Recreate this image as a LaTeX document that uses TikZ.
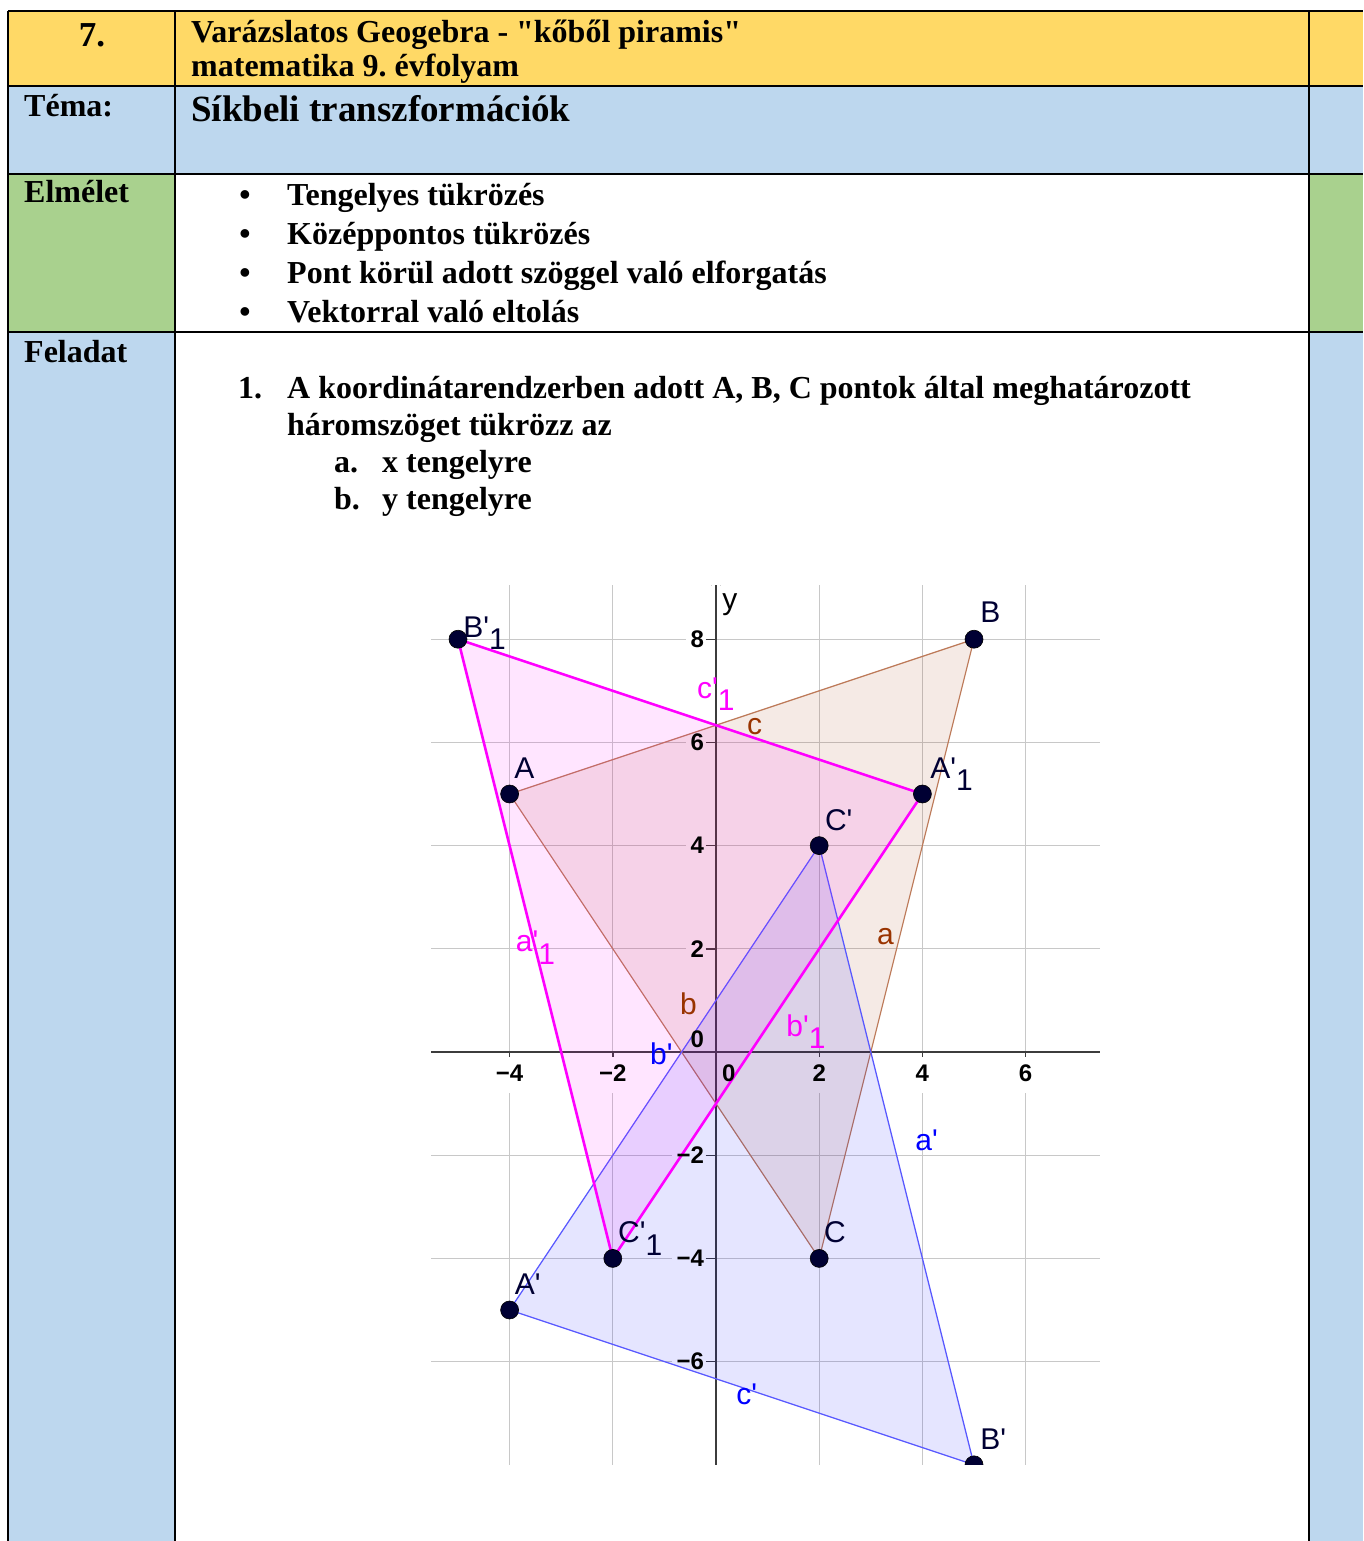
\documentclass[tikz,border=0pt]{standalone}
\usepackage{fontspec}
\setmainfont{Liberation Serif}[Ligatures=TeXOff]
\setsansfont{Liberation Sans}[Ligatures=TeXOff]
\usetikzlibrary{arrows.meta}
\frenchspacing

\definecolor{hdryellow}{RGB}{255,217,102}
\definecolor{hdrblue}{RGB}{189,215,238}
\definecolor{hdrgreen}{RGB}{169,209,142}
\definecolor{ggbrown}{RGB}{153,51,0}
\definecolor{ggpink}{RGB}{255,0,255}
\definecolor{ggblue}{RGB}{0,0,255}
\definecolor{ggpoint}{RGB}{0,0,51}
\definecolor{gggrid}{RGB}{200,200,200}
\definecolor{ggaxis}{RGB}{60,60,60}

\newcommand{\ggsub}[1]{\raisebox{-0.42em}{#1}}

\begin{document}
\begin{tikzpicture}[x=1pt, y=-1pt,
    hdrtext/.style={anchor=base west, inner sep=0pt, font=\fontsize{32}{36}\selectfont\bfseries},
    rule/.style={line width=2.6pt, black},
    gridline/.style={gggrid, line width=1.3pt},
    axisline/.style={ggaxis, line width=1.4pt},
    ticklbl/.style={inner sep=0pt, font=\sffamily\bfseries\fontsize{24}{27}\selectfont},
    ptlbl/.style={anchor=base west, inner sep=0pt, text=ggpoint, font=\sffamily\fontsize{30}{33}\selectfont},
    edgelbl/.style={anchor=base west, inner sep=0pt, font=\sffamily\fontsize{30}{33}\selectfont},
    ggdot/.style={circle, fill=ggpoint, draw=black, line width=0.6pt, inner sep=0pt, minimum size=18pt},
    browntri/.style={draw=ggbrown!65, line width=1.2pt, fill=ggbrown, fill opacity=0.1},
    bluetri/.style={draw=ggblue!65, line width=1.3pt, fill=ggblue, fill opacity=0.1},
    pinktri/.style={draw=ggpink, line width=2.6pt, fill=ggpink, fill opacity=0.1}
]
\useasboundingbox (0,0) rectangle (1363,1541);

% table cells
\fill[hdryellow] (8,11) rectangle (1363,86);
\fill[hdrblue] (8,86) rectangle (1363,174);
\fill[hdrgreen] (8,174) rectangle (175,332);
\fill[hdrgreen] (1309,174) rectangle (1363,332);
\fill[hdrblue] (8,332) rectangle (175,1541);
\fill[hdrblue] (1309,332) rectangle (1363,1541);
\foreach \ry in {11,86,174,332}
    \draw[rule] (8,\ry) -- (1363,\ry);
\foreach \rx in {8,175,1309}
    \draw[rule] (\rx,11) -- (\rx,1541);

% table texts
\node[hdrtext, anchor=base, font=\fontsize{35}{40}\selectfont\bfseries] (num) at (92,47) {7.};
\node[hdrtext] (title1) at (191,43) {Varázslatos Geogebra - "kőből piramis"};
\node[hdrtext] (title2) at (191,77) {matematika 9. évfolyam};
\node[hdrtext] (tema) at (24,117) {Téma:};
\node[hdrtext, font=\fontsize{37}{42}\selectfont\bfseries] (temaval) at (191,122) {Síkbeli transzformációk};
\node[hdrtext] (elmelet) at (24,203) {Elmélet};
\foreach \txt [count=\i] in {Tengelyes tükrözés, Középpontos tükrözés, Pont körül adott szöggel való elforgatás, Vektorral való eltolás} {
    \node[hdrtext, anchor=base] (bdot\i) at (245,{205+(\i-1)*39.3}) {\textbullet};
    \node[hdrtext] (bul\i) at (287,{205+(\i-1)*39.3}) {\txt};
}
\node[hdrtext] (feladat) at (24,362) {Feladat};
\node[hdrtext] (tasknum) at (238,398) {1.};
\node[hdrtext] (task1) at (287,398) {A koordinátarendzerben adott A, B, C pontok által meghatározott};
\node[hdrtext] (task2) at (287,435) {háromszöget tükrözz az};
\node[hdrtext] (suba) at (334,472) {a.};
\node[hdrtext] (subatxt) at (382,472) {x tengelyre};
\node[hdrtext] (subb) at (334,509) {b.};
\node[hdrtext] (subbtxt) at (382,509) {y tengelyre};

% coordinate system
\begin{scope}[shift={(716pt,-1052pt)}, x=51.6pt, y=51.6pt]
\begin{scope}
\clip (-5.52,-8.0) rectangle (7.44,9.05);

% grid with gaps for the axis labels
\foreach \gx in {-4,-2,2,4,6} {
    \draw[gridline] (\gx,9.05) -- (\gx,0);
    \draw[gridline] (\gx,-0.8) -- (\gx,-8);
    \draw[axisline] (\gx,0) -- (\gx,-0.1);
}
\foreach \gy/\stop in {8/-0.58, 6/-0.58, 4/-0.58, 2/-0.58, -2/-0.85, -4/-0.85, -6/-0.85} {
    \draw[gridline] (-5.52,\gy) -- (\stop,\gy);
    \draw[gridline] (0,\gy) -- (7.44,\gy);
    \draw[axisline] (-0.2,\gy) -- (0,\gy);
}
\draw[axisline] (-5.52,0) -- (7.44,0);
\draw[axisline, -{Straight Barb[length=5pt, width=10pt]}] (0,-8.1) -- (0,9.17);

% points
\coordinate (A) at (-4,5);
\coordinate (B) at (5,8);
\coordinate (C) at (2,-4);
\coordinate (A') at (-4,-5);
\coordinate (B') at (5,-8);
\coordinate (C') at (2,4);
\coordinate (A1) at (4,5);
\coordinate (B1) at (-5,8);
\coordinate (C1) at (-2,-4);

% triangles
\filldraw[browntri] (A) -- (B) -- (C) -- cycle;
\filldraw[bluetri] (A') -- (B') -- (C') -- cycle;
\filldraw[pinktri] (A1) -- (B1) -- (C1) -- cycle;

\foreach \p in {A,B,C,A',B',C',A1,B1,C1}
    \node[ggdot] (dot\p) at (\p) {};
\end{scope}

% axis labels
\node[ticklbl, font=\sffamily\fontsize{30}{33}\selectfont, anchor=base west] (ylbl) at (0.12,8.58) {y};
\foreach \gx/\txt [count=\i] in {-4/−4, -2/−2, 0.25/0, 2/2, 4/4, 6/6}
    \node[ticklbl, anchor=base] (xtick\i) at (\gx,-0.58) {\txt};
\foreach \gy/\txt [count=\i] in {8/8, 6/6, 4/4, 2/2, 0.24/0, -2/−2, -4/−4, -6/−6}
    \node[ticklbl, anchor=east] (ytick\i) at (-0.23,\gy) {\txt};

% point labels
\node[ptlbl] (lB1) at (-4.90,8.04) {B'\ggsub{1}};
\node[ptlbl] (lA) at (-3.91,5.31) {A};
\node[ptlbl] (lB) at (5.12,8.33) {B};
\node[ptlbl] (lA1) at (4.15,5.31) {A'\ggsub{1}};
\node[ptlbl] (lC') at (2.11,4.30) {C'};
\node[ptlbl] (lC) at (2.09,-3.70) {C};
\node[ptlbl] (lC1) at (-1.90,-3.70) {C'\ggsub{1}};
\node[ptlbl] (lA') at (-3.90,-4.69) {A'};
\node[ptlbl] (lB') at (5.12,-7.71) {B'};

% side labels
\node[edgelbl, text=ggpink] (lc1) at (-0.37,6.86) {c'\ggsub{1}};
\node[edgelbl, text=ggbrown] (lc) at (0.60,6.16) {c};
\node[edgelbl, text=ggbrown] (la) at (3.12,2.09) {a};
\node[edgelbl, text=ggpink] (la1) at (-3.88,1.94) {a'\ggsub{1}};
\node[edgelbl, text=ggbrown] (lb) at (-0.70,0.72) {b};
\node[edgelbl, text=ggpink] (lb1) at (1.36,0.31) {b'\ggsub{1}};
\node[edgelbl, text=ggblue] (lb') at (-1.28,-0.25) {b'};
\node[edgelbl, text=ggblue] (la') at (3.86,-1.90) {a'};
\node[edgelbl, text=ggblue] (lc') at (0.39,-6.84) {c'};
\end{scope}
\end{tikzpicture}
\end{document}
